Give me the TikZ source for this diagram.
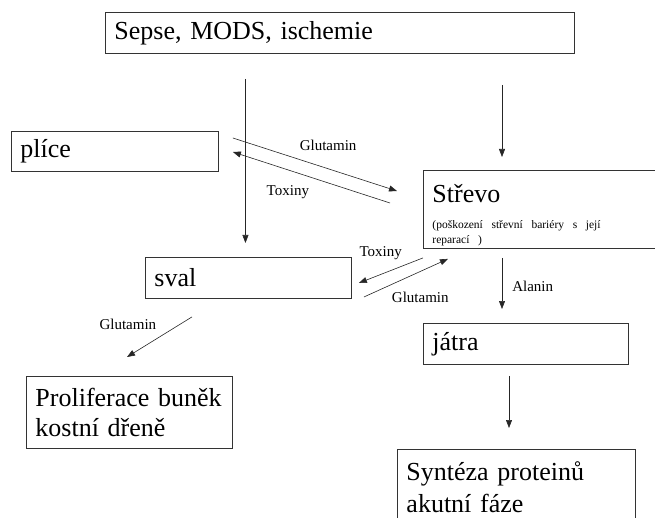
\documentclass[tikz,border=0pt]{standalone}
\usepackage{fontspec}
\setmainfont{Liberation Serif}
\usetikzlibrary{positioning,arrows.meta,calc}

\tikzset{
    box/.style={draw=black!80, line width=0.9pt, rectangle, anchor=north west, inner xsep=9pt, inner ysep=0pt, align=left, font=\fontsize{26}{30}\selectfont},
    arr/.style={draw=black!85, line width=0.6pt, -{Triangle[length=8pt,width=6pt]}},
    lbl/.style={font=\fontsize{15}{15}\selectfont, inner sep=0pt},
}

\begin{document}
\begin{tikzpicture}[x=1pt, y=-1pt]
    \useasboundingbox (0,0) rectangle (655,518);
    \clip (0,0) rectangle (655,518);

    % Define the boxes
    \node[box, text width=451pt, minimum height=41pt] (sepse) at (105,12) {Sepse, MODS, ischemie};
    \node[box, text width=189pt, minimum height=40pt] (plice) at (11,131) {plíce};
    \node[box, text width=236pt, minimum height=78pt, font=\fontsize{26}{15}\selectfont] (strevo) at (423,170)
        {\rule{0pt}{29pt}Střevo\\[11pt]\fontsize{11.5}{15}\selectfont\makebox[219pt][s]{(poškození střevní bariéry s její}\\reparací )};
    \node[box, text width=188pt, minimum height=41pt] (sval) at (145,257) {sval};
    \node[box, text width=187pt, minimum height=41pt] (jatra) at (423,323) {játra};
    \node[box, text width=188pt, minimum height=72pt] (prolif) at (26,376) {Proliferace buněk\\kostní dřeně};
    \node[box, text width=220pt, inner ysep=12pt, font=\fontsize{26}{32}\selectfont] (synteza) at (397,449) {Syntéza proteinů\\akutní fáze};

    % Entry points
    \coordinate (svalin) at ([xshift=-3pt]sval.north);
    \coordinate (strevoin) at ([xshift=79pt]strevo.north west);
    \coordinate (jatraout) at ([xshift=86pt]jatra.south west);

    % From the top box
    \draw[arr, shorten <=25pt, shorten >=14pt] (sepse.south -| svalin) -- (svalin);
    \draw[arr, shorten <=31pt, shorten >=13pt] (sepse.south -| strevoin) -- (strevoin);

    % Lungs and gut
    \draw[arr] ([shift={(14,7)}]plice.north east) -- ([shift={(-26,21)}]strevo.north west) node[lbl, pos=0.58, above=18pt] {Glutamin};
    \draw[arr] ([shift={(-33,33)}]strevo.north west) -- ([shift={(14,21)}]plice.north east) node[lbl, pos=0.65, below=15pt] {Toxiny};

    % Muscle and gut
    \draw[arr] ([shift={(0,9)}]strevo.south west) -- ([shift={(7,26)}]sval.north east) node[lbl, pos=0.66, above=14pt] {Toxiny};
    \draw[arr] ([shift={(12,40)}]sval.north east) -- ([shift={(25,10)}]strevo.south west) node[lbl, pos=0.67, below=20pt] {Glutamin};

    % Down to the liver
    \draw[arr, shorten <=9pt, shorten >=14pt] (strevoin |- strevo.south) -- (strevoin |- jatra.north) node[lbl, midway, right=10pt] {Alanin};
    \draw[arr, shorten <=11pt, shorten >=21pt] (jatraout) -- (jatraout |- synteza.north);

    % Bone marrow
    \draw[arr] ([shift={(47,18)}]sval.south west) -- ([shift={(101,-19)}]prolif.north west) node[lbl, midway, above left=7pt and 3pt] {Glutamin};
\end{tikzpicture}
\end{document}
